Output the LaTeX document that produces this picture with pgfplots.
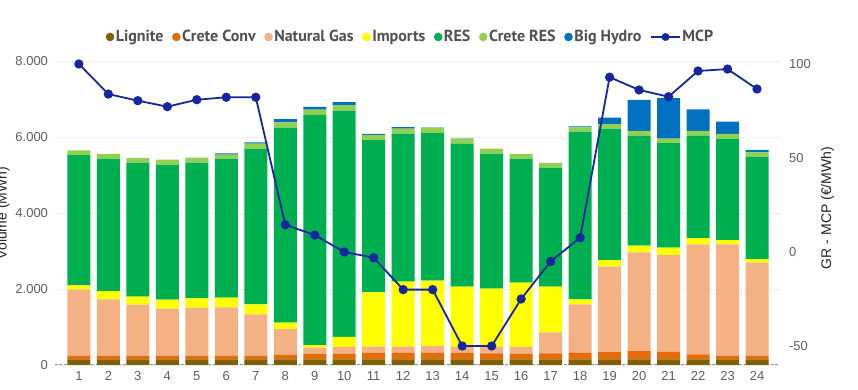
\documentclass[border=0pt]{standalone}
\usepackage{fontspec}
\setmainfont{Liberation Sans}
\newfontfamily\legfont{PT Sans}
\usepackage{pgfplots}
\usepackage{pgfplotstable}
\pgfplotsset{compat=1.18}
\definecolor{lignite}{RGB}{128,96,0}
\definecolor{creteconv}{RGB}{228,108,10}
\definecolor{natgas}{RGB}{244,177,131}
\definecolor{imports}{RGB}{255,255,0}
\definecolor{res}{RGB}{0,176,80}
\definecolor{creteres}{RGB}{146,208,80}
\definecolor{hydro}{RGB}{0,112,192}
\definecolor{mcp}{RGB}{22,38,160}
\definecolor{ticktxt}{RGB}{96,94,92}
\definecolor{titletxt}{RGB}{37,36,35}
\definecolor{legtxt}{RGB}{80,80,80}

\pgfplotstableread{
h lig cc ng imp res cres hyd mcp
1  150 95  1737 114  3430 123 0    100
2  150 95  1483 219  3483 123 0    84
3  150 95  1343 210  3527 122 0    80.5
4  150 95  1238 236  3553 131 0    77.3
5  150 95  1264 245  3571 131 0    81
6  150 95  1273 254  3658 105 35   82.3
7  150 95  1088 263  4097 131 36   82.3
8  150 120 675  167  5132 140 88   14.5
9  150 148 158  70   6053 140 71   9
10 150 148 176  263  5956 149 79   0
11 150 175 157  1430 4009 132 26   -3
12 150 175 157  1710 3896 131 44   -20
13 150 175 175  1719 3886 132 10   -20
14 150 175 149  1587 3763 132 10   -50
15 150 157 167  1535 3552 132 0    -50
16 150 148 176  1693 3263 123 0    -25
17 150 157 553  1201 3132 123 0    -5
18 150 175 1271 132  4413 114 26   7.6
19 150 192 2244 177  3456 123 167  93
20 150 218 2597 175  2895 123 816  86.2
21 150 201 2544 193  2754 114 1070 82.6
22 150 131 2894 167  2693 123 570  96.3
23 150 95  2930 114  2667 123 324  97.3
24 150 95  2448 96   2693 114 62   86.7
}\datatable

\begin{document}
\begin{tikzpicture}[x=1pt,y=1pt]
\useasboundingbox (0,0) rectangle (858,390);
\begin{axis}[
  at={(55pt,25pt)}, anchor=south west,
  scale only axis, width=725pt, height=304pt,
  ybar stacked, bar width=23pt,
  xmin=0.19, xmax=24.78, ymin=0, ymax=8000,
  xtick={1,...,24},
  ytick={0,2000,4000,6000,8000},
  scaled y ticks=false,
  yticklabel style={/pgf/number format/fixed, /pgf/number format/1000 sep={.}},
  /pgf/number format/assume math mode=true,
  ticklabel style={font=\fontsize{13}{15}\selectfont, color=ticktxt},
  xticklabel style={yshift=-3pt},
  yticklabel style={xshift=-3.5pt},
  major tick length=0pt,
  axis line style={draw=none},
  ymajorgrids, grid style={color=black!7, line width=0.8pt},
  legend style={at={(rel axis cs:0.49,1.079)}, anchor=center, draw=none, fill=none,
    legend columns=-1, font=\legfont\bfseries\fontsize{16}{18}\selectfont, text=legtxt,
    /tikz/every even column/.append style={column sep=7pt},
    nodes={inner xsep=1.5pt}},
  every axis plot/.append style={draw=none},
]
\addplot[fill=lignite, legend image code/.code={\fill[lignite] (0pt,0pt) circle (4.3pt);}] table[x=h,y=lig] {\datatable};
\addlegendentry{Lignite}
\addplot[fill=creteconv, legend image code/.code={\fill[creteconv] (0pt,0pt) circle (4.3pt);}] table[x=h,y=cc] {\datatable};
\addlegendentry{Crete Conv}
\addplot[fill=natgas, legend image code/.code={\fill[natgas] (0pt,0pt) circle (4.3pt);}] table[x=h,y=ng] {\datatable};
\addlegendentry{Natural Gas}
\addplot[fill=imports, legend image code/.code={\fill[imports] (0pt,0pt) circle (4.3pt);}] table[x=h,y=imp] {\datatable};
\addlegendentry{Imports}
\addplot[fill=res, legend image code/.code={\fill[res] (0pt,0pt) circle (4.3pt);}] table[x=h,y=res] {\datatable};
\addlegendentry{RES}
\addplot[fill=creteres, legend image code/.code={\fill[creteres] (0pt,0pt) circle (4.3pt);}] table[x=h,y=cres] {\datatable};
\addlegendentry{Crete RES}
\addplot[fill=hydro, legend image code/.code={\fill[hydro] (0pt,0pt) circle (4.3pt);}] table[x=h,y=hyd] {\datatable};
\addlegendentry{Big Hydro}
\addlegendimage{mcp, line width=1.8pt, mark=*, mark size=3.7pt,
  legend image code/.code={\draw[mcp, line width=1.8pt] (-2pt,0pt) -- (27pt,0pt); \fill[mcp] (12.5pt,0pt) circle (4pt);}}
\addlegendentry{MCP}
\draw[color=black!40, line width=2.5pt, dash pattern=on 3pt off 1.5pt] (rel axis cs:0,0) -- (rel axis cs:1,0);
\end{axis}
\begin{axis}[
  at={(55pt,25pt)}, anchor=south west,
  scale only axis, width=725pt, height=304pt,
  xmin=0.19, xmax=24.78, ymin=-60.1, ymax=101.6,
  axis y line*=right, axis x line=none,
  axis line style={draw=none},
  ytick={-50,0,50,100},
  major tick length=0pt,
  /pgf/number format/assume math mode=true,
  ticklabel style={font=\fontsize{13}{15}\selectfont, color=ticktxt},
  yticklabel style={xshift=5.5pt},
]
\addplot[mcp, line width=1.8pt, mark=*, mark size=3.7pt] table[x=h,y=mcp] {\datatable};
\end{axis}
\node[rotate=90, anchor=base, font=\fontsize{14}{16}\selectfont, text=titletxt] at (6.5,177) {Volume (MWh)};
\node[rotate=90, anchor=base, font=\fontsize{14}{16}\selectfont, text=titletxt] at (831,182) {GR - MCP (€/MWh)};
\end{tikzpicture}
\end{document}
